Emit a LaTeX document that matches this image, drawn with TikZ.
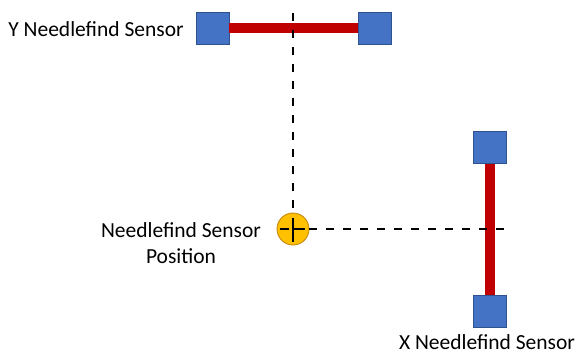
\documentclass[tikz,border=0pt]{standalone}
\usepackage{fontspec}
\setmainfont{Carlito}
\definecolor{sqblue}{HTML}{4472C4}
\definecolor{sqborder}{HTML}{2F528F}
\definecolor{barred}{HTML}{C00000}
\definecolor{dotfill}{HTML}{FFC000}
\definecolor{dotborder}{HTML}{C7880A}
\begin{document}
\begin{tikzpicture}[x=1pt,y=-1pt,
  sensorbox/.style={draw=sqborder,line width=0.9pt,fill=sqblue,minimum width=33pt,minimum height=32pt,inner sep=0pt},
  barline/.style={barred,line width=10pt},
  guideline/.style={black,line width=2pt,dash pattern=on 8pt off 9pt},
  crossline/.style={black,line width=2pt},
  lbl/.style={font=\fontsize{21.5}{25.5}\selectfont,inner sep=0pt,align=center}]
\useasboundingbox (0,0) rectangle (577,353);
% Y sensor
\node[sensorbox] (yl) at (212.5,28) {};
\node[sensorbox] (yr) at (374.5,28) {};
\draw[barline] (yl.east) -- (yr.west);
% X sensor
\node[sensorbox] (xt) at (489.5,147.5) {};
\node[sensorbox] (xb) at (489.5,311.5) {};
\draw[barline] (xt.south) -- (xb.north);
% position marker
\node[circle,draw=dotborder,line width=0.9pt,fill=dotfill,minimum size=32pt,inner sep=0pt] (pos) at (293,229) {};
\coordinate (ytop) at (293,13);
\coordinate (xend) at (505,229);
\draw[guideline] (ytop) -- (pos.north);
\draw[guideline] (pos.east) -- (xend);
\draw[crossline] ([yshift=-5pt]pos.north) -- (pos.center);
\draw[crossline] ([yshift=4pt]pos.center) -- ([yshift=3pt]pos.south);
\draw[crossline] ([xshift=3pt]pos.west) -- ([xshift=-4pt]pos.center);
\draw[crossline] ([xshift=1pt]pos.center) -- ([xshift=-4pt]pos.east);
% labels
\node[lbl,anchor=base] (ylbl) at (96,37) {Y Needlefind Sensor};
\node[lbl,anchor=center] (plbl) at (181,243) {Needlefind Sensor\\Position};
\node[lbl,anchor=base] (xlbl) at (487,349.5) {X Needlefind Sensor};
\end{tikzpicture}
\end{document}
